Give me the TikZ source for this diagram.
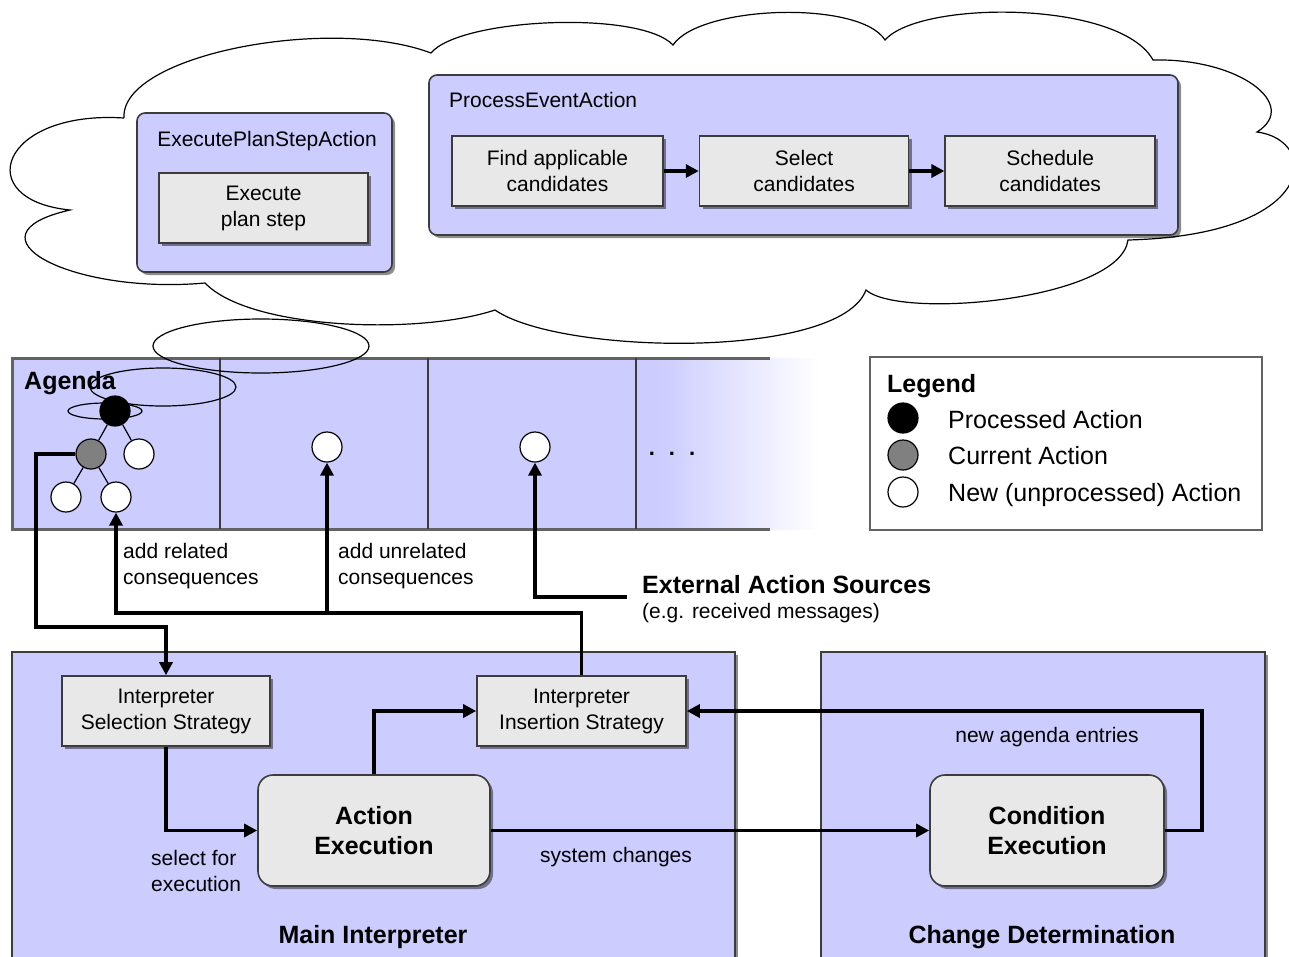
\documentclass[tikz,border=0pt]{standalone}
\usepackage{fontspec}
\setmainfont{Liberation Sans}
\usetikzlibrary{positioning,shadows,arrows.meta}
%
\newcommand{\nodedistance}{35pt}
\newcommand{\lblfont}{\fontsize{21}{26}\selectfont}
\newcommand{\bigfont}{\fontsize{25}{30}\selectfont}
%
\definecolor{lavender}{RGB}{204,204,255}
\definecolor{boxgray}{RGB}{232,232,232}
\definecolor{edgegray}{RGB}{60,60,60}
\definecolor{curgray}{RGB}{128,128,128}
%
\tikzset{
	shadowed/.style={drop shadow={shadow xshift=3pt,shadow yshift=-3pt,opacity=0.45,fill=black}},
	area/.style={draw=edgegray,line width=1.6pt,fill=lavender,shadowed,inner sep=0pt},
	container/.style={area,rounded corners=8pt},
	pbox/.style={draw=edgegray,line width=1.6pt,fill=boxgray,shadowed,font=\lblfont,align=center,inner sep=0pt},
	ebox/.style={pbox,rounded corners=15pt,font=\bigfont\bfseries},
	action/.style={circle,draw=black,line width=1.2pt,minimum size=30pt,inner sep=0pt},
	tree/.style={line width=1.2pt},
	cloudline/.style={line width=1.2pt},
	flow/.style={line width=3.2pt,-{Triangle[length=13pt,width=13pt]}},
	remark/.style={font=\lblfont,inner sep=0pt},
	heading/.style={font=\bigfont\bfseries,inner sep=0pt},
}
%
\begin{document}
\begin{tikzpicture}[
	x=1pt,y=-1pt,% Pixelkoordinaten, y nach unten
	auto,
	node distance=\nodedistance
]
\useasboundingbox (0,0) rectangle (1289,956);
\clip (0,0) rectangle (1289,956);
%
% Wolke
\draw[cloudline] (124,118)
	.. controls (120,55) and (330,15) .. (431,53)
	.. controls (460,18) and (640,10) .. (673,45)
	.. controls (700,5) and (860,0) .. (885,40)
	.. controls (920,0) and (1120,0) .. (1153,60)
	.. controls (1240,58) and (1300,105) .. (1257,132)
	.. controls (1320,140) and (1320,235) .. (1128,240)
	.. controls (1120,300) and (900,320) .. (866,290)
	.. controls (840,360) and (560,355) .. (495,310)
	.. controls (420,335) and (250,330) .. (205,283)
	.. controls (70,295) and (-40,235) .. (70,210)
	.. controls (-30,200) and (0,110) .. (124,118);
%
% Aktionen in der Wolke
\node(n_eps_box)%
    [container,minimum width=255pt,minimum height=159pt] at (264.5,192.5)%
    {};%
\node(n_eps_title)%
    [remark,anchor=base] at (267,146)%
    {ExecutePlanStepAction};%
\node(n_eps)%
    [pbox,minimum width=209pt,minimum height=70pt] at (263.5,208)%
    {Execute\\plan step};%
%
\node(n_pea_box)%
    [container,minimum width=749pt,minimum height=160pt] at (803.5,155)%
    {};%
\node(n_pea_title)%
    [remark,anchor=base west] at (449,107)%
    {ProcessEventAction};%
\node(n_find)%
    [pbox,minimum width=211pt,minimum height=70pt] at (557.5,171)%
    {Find applicable\\candidates};%
\node(n_select)%
    [pbox,minimum width=209pt,minimum height=70pt,right=of n_find]%
    {Select\\candidates};%
\node(n_schedule)%
    [pbox,minimum width=210pt,minimum height=70pt,right=of n_select]%
    {Schedule\\candidates};%
\draw[flow] (n_find) -- (n_select);
\draw[flow] (n_select) -- (n_schedule);
%
% Agenda
\fill[lavender] (12,358) rectangle (660,529);
\shade[left color=lavender,middle color=lavender!55,right color=white] (660,358) rectangle (820,529);
\draw[line width=3pt,draw=edgegray!80] (770,358) -- (12,358) -- (12,529) -- (770,529);
\foreach \x in {220,428,636}
	\draw[line width=1.5pt,draw=edgegray] (\x,358) -- (\x,529);
%
% Gedankenblasen
\draw[cloudline] (261,346) ellipse [x radius=108,y radius=27];
\draw[cloudline] (163,387) ellipse [x radius=73,y radius=19];
\draw[cloudline] (105,411) ellipse [x radius=37,y radius=8];
%
\node(n_agenda)%
    [heading,anchor=base west] at (24,389)%
    {Agenda};%
\node(n_done)%
    [action,fill=black] at (115,411)%
    {};%
\node(n_cur)%
    [action,fill=curgray] at (91,454)%
    {};%
\node(n_new1)%
    [action,fill=white] at (139,454)%
    {};%
\node(n_new2)%
    [action,fill=white] at (66,497)%
    {};%
\node(n_new3)%
    [action,fill=white] at (116,497)%
    {};%
\node(n_new4)%
    [action,fill=white] at (327,447)%
    {};%
\node(n_new5)%
    [action,fill=white] at (535,447)%
    {};%
\node(n_more)%
    [font=\fontsize{22}{26}\selectfont\bfseries,inner sep=0pt,anchor=base] at (672,455)%
    {.\hspace{14pt}.\hspace{14pt}.};%
\draw[tree] (n_done) -- (n_cur);
\draw[tree] (n_done) -- (n_new1);
\draw[tree] (n_cur) -- (n_new2);
\draw[tree] (n_cur) -- (n_new3);
%
% Legende
\node(n_legend)%
    [draw=edgegray!80,line width=1.3pt,minimum width=392pt,minimum height=173pt,inner sep=0pt] at (1066,443.5)%
    {};%
\node(n_leg_title)%
    [heading,anchor=base west] at (887,392)%
    {Legend};%
\node(n_leg_done)%
    [action,fill=black] at (903,418)%
    {};%
\node(n_leg_cur)%
    [action,fill=curgray] at (903,455)%
    {};%
\node(n_leg_new)%
    [action,fill=white] at (903,492)%
    {};%
\node(n_leg_done_txt)%
    [font=\bigfont,inner sep=0pt,anchor=base west] at (948,428)%
    {Processed Action};%
\node(n_leg_cur_txt)%
    [font=\bigfont,inner sep=0pt,anchor=base west] at (948,464)%
    {Current Action};%
\node(n_leg_new_txt)%
    [font=\bigfont,inner sep=0pt,anchor=base west] at (948,501)%
    {New (unprocessed) Action};%
%
% Interpreter
\node(n_main_box)%
    [area,minimum width=723pt,minimum height=323pt] at (373.5,813.5)%
    {};%
\node(n_main_title)%
    [heading,anchor=base] at (373,943)%
    {Main Interpreter};%
\node(n_sel)%
    [pbox,minimum width=208pt,minimum height=70pt] at (166,711)%
    {Interpreter\\Selection Strategy};%
\node(n_ins)%
    [pbox,minimum width=209pt,minimum height=70pt] at (581.5,711)%
    {Interpreter\\Insertion Strategy};%
\node(n_ae)%
    [ebox,minimum width=232pt,minimum height=111pt] at (374,830.5)%
    {Action\\Execution};%
%
\node(n_chg_box)%
    [area,minimum width=444pt,minimum height=323pt] at (1043,813.5)%
    {};%
\node(n_chg_title)%
    [heading,anchor=base] at (1042,943)%
    {Change Determination};%
\node(n_ce)%
    [ebox,minimum width=234pt,minimum height=111pt] at (1047,830.5)%
    {Condition\\Execution};%
%
% Beschriftungen
\node(n_l_related)%
    [remark,anchor=north west,align=left] at (123,543)%
    {add related\\consequences};%
\node(n_l_unrelated)%
    [remark,anchor=north west,align=left] at (338,543)%
    {add unrelated\\consequences};%
\node(n_l_ext)%
    [heading,anchor=base west] at (642,593)%
    {External Action Sources};%
\node(n_l_ext_eg)%
    [remark,anchor=base west] at (642,618)%
    {(e.g. received messages)};%
\node(n_l_select)%
    [remark,anchor=north west,align=left] at (151,850)%
    {select for\\execution};%
\node(n_l_sys)%
    [remark,anchor=base west] at (540,862)%
    {system changes};%
\node(n_l_new)%
    [remark,anchor=base] at (1047,742)%
    {new agenda entries};%
%
% Verbindungen
\coordinate(c_sel_bend) at (36,627);
\coordinate(c_ins_bend) at (116,613);
\coordinate(c_branch) at (327,613);
\coordinate(c_ext) at (627,597);
\coordinate(c_ce_bend) at (1202,830.5);
%
\draw[flow] (n_cur.west) -| (c_sel_bend) -| (n_sel.north);
\draw[flow] (n_ins.north) |- (c_ins_bend) -- (n_new3.south);
\draw[flow] (c_branch) -- (n_new4.south);
\draw[flow] (c_ext) -| (n_new5.south);
\draw[flow] (n_sel.south) |- (n_ae.west);
\draw[flow] (n_ae.north) |- (n_ins.west);
\draw[flow] (n_ae.east) -- (n_ce.west);
\draw[flow] (n_ce.east) -- (c_ce_bend) |- (n_ins.east);
%
\end{tikzpicture}
\end{document}
